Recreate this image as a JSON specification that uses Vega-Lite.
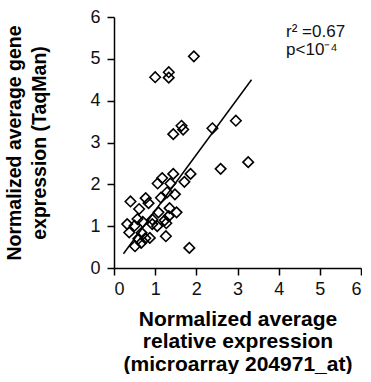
{
  "$schema": "https://vega.github.io/schema/vega-lite/v6.json",
  "width": 247,
  "height": 251,
  "padding": {"left": 4, "top": 8, "right": 0, "bottom": 0},
  "background": "white",
  "config": {
    "font": "Liberation Sans",
    "view": {"stroke": null},
    "axis": {
      "grid": false,
      "domainColor": "black",
      "domainWidth": 1.5,
      "tickColor": "black",
      "tickWidth": 1.5,
      "tickSize": 7,
      "labelFont": "Liberation Sans",
      "labelFontSize": 18,
      "labelColor": "#111111",
      "titleFont": "Liberation Sans",
      "titleFontWeight": "bold",
      "titleColor": "black"
    }
  },
  "datasets": {
    "points": [
      {"x": 1.00, "y": 4.56}, {"x": 1.33, "y": 4.68}, {"x": 1.33, "y": 4.55}, {"x": 1.94, "y": 5.06},
      {"x": 1.64, "y": 3.40}, {"x": 1.68, "y": 3.31}, {"x": 1.44, "y": 3.20}, {"x": 2.39, "y": 3.34},
      {"x": 2.96, "y": 3.52}, {"x": 2.59, "y": 2.37}, {"x": 3.26, "y": 2.53}, {"x": 1.86, "y": 2.25},
      {"x": 1.71, "y": 2.06}, {"x": 1.44, "y": 2.25}, {"x": 1.17, "y": 2.15}, {"x": 1.06, "y": 2.02},
      {"x": 1.37, "y": 2.02}, {"x": 1.48, "y": 1.76}, {"x": 1.29, "y": 1.81}, {"x": 1.14, "y": 1.68},
      {"x": 0.77, "y": 1.67}, {"x": 0.84, "y": 1.55}, {"x": 0.40, "y": 1.59}, {"x": 0.61, "y": 1.41},
      {"x": 1.35, "y": 1.43}, {"x": 1.52, "y": 1.33}, {"x": 1.08, "y": 1.33}, {"x": 1.33, "y": 1.24},
      {"x": 1.23, "y": 1.14}, {"x": 0.93, "y": 1.16}, {"x": 0.57, "y": 1.17}, {"x": 0.32, "y": 1.05},
      {"x": 0.50, "y": 1.01}, {"x": 0.70, "y": 1.10}, {"x": 1.05, "y": 1.00}, {"x": 1.27, "y": 1.07},
      {"x": 0.37, "y": 0.85}, {"x": 0.67, "y": 0.84}, {"x": 0.87, "y": 0.72}, {"x": 0.76, "y": 0.71},
      {"x": 0.51, "y": 0.52}, {"x": 0.66, "y": 0.60}, {"x": 1.26, "y": 0.76}, {"x": 1.83, "y": 0.48},
      {"x": 0.93, "y": 1.05}, {"x": 0.59, "y": 0.70}
    ],
    "fit": [
      {"x": 0.23, "y": 0.34},
      {"x": 3.34, "y": 4.50}
    ],
    "stats": [
      {"x": 4.18, "y": 5.51, "label": "r² =0.67"},
      {"x": 4.18, "y": 5.10, "label": "p<10⁻⁴"}
    ]
  },
  "layer": [
    {
      "data": {"name": "fit"},
      "mark": {"type": "line", "color": "black", "strokeWidth": 1.5},
      "encoding": {
        "x": {
          "field": "x", "type": "quantitative",
          "scale": {"domain": [0, 6], "nice": false, "zero": false},
          "axis": {
            "values": [0, 1, 2, 3, 4, 5, 6],
            "labelPadding": 5,
            "title": ["Normalized average", "relative expression", "(microarray 204971_at)"],
            "titleFontSize": 21,
            "titleLineHeight": 22.5,
            "titlePadding": 10
          }
        },
        "y": {
          "field": "y", "type": "quantitative",
          "scale": {"domain": [0, 6], "nice": false, "zero": false},
          "axis": {
            "values": [0, 1, 2, 3, 4, 5, 6],
            "labelPadding": 7,
            "title": ["Normalized average gene", "expression (TaqMan)"],
            "titleFontSize": 19.5,
            "titleLineHeight": 25,
            "titlePadding": 40
          }
        }
      }
    },
    {
      "data": {"name": "points"},
      "mark": {"type": "point", "shape": "diamond", "filled": false, "stroke": "black", "strokeWidth": 1.6, "size": 110, "opacity": 1},
      "encoding": {
        "x": {"field": "x", "type": "quantitative"},
        "y": {"field": "y", "type": "quantitative"}
      }
    },
    {
      "data": {"name": "stats"},
      "mark": {"type": "text", "align": "left", "baseline": "alphabetic", "fontSize": 17, "color": "#111111", "font": "Liberation Sans"},
      "encoding": {
        "x": {"field": "x", "type": "quantitative"},
        "y": {"field": "y", "type": "quantitative"},
        "text": {"field": "label"}
      }
    }
  ]
}
